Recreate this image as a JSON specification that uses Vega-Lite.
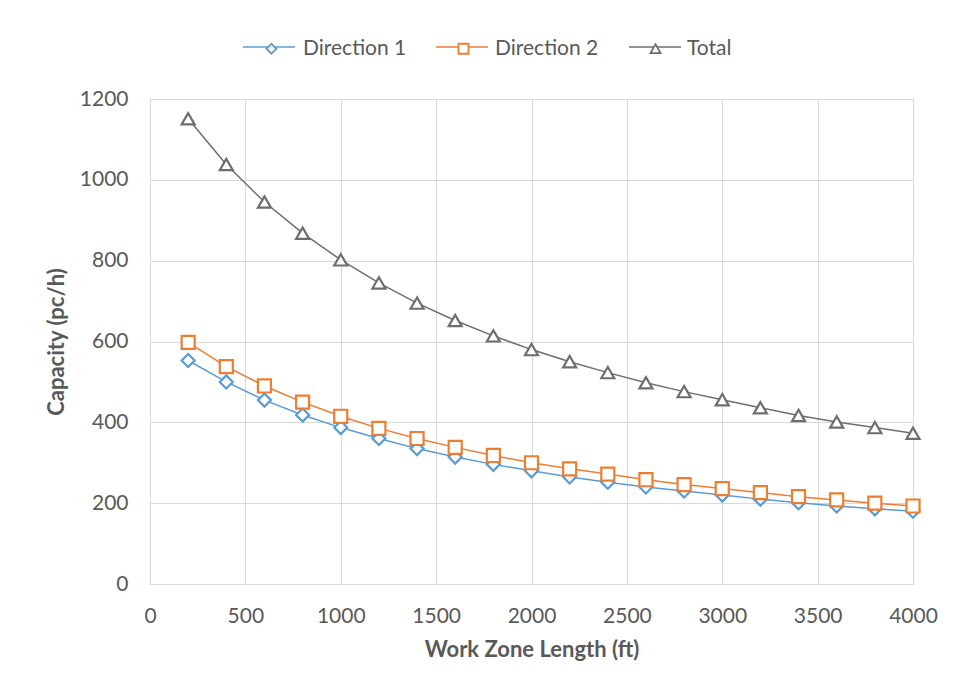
{
  "$schema": "https://vega.github.io/schema/vega-lite/v6.json",
  "width": 763,
  "height": 485,
  "autosize": {"type": "none"},
  "padding": {"left": 150, "top": 99, "right": 43, "bottom": 112},
  "background": "white",
  "config": {
    "font": "Lato",
    "view": {"stroke": null},
    "axis": {"labelColor": "#595959", "titleColor": "#595959", "gridColor": "#d9d9d9", "labelFont": "Lato", "titleFont": "Lato"},
    "legend": {"labelFont": "Lato"}
  },
  "data": {"values": [
    {"len": 200, "series": "Direction 1", "cap": 553}, {"len": 400, "series": "Direction 1", "cap": 500}, {"len": 600, "series": "Direction 1", "cap": 455}, {"len": 800, "series": "Direction 1", "cap": 418}, {"len": 1000, "series": "Direction 1", "cap": 387}, {"len": 1200, "series": "Direction 1", "cap": 360}, {"len": 1400, "series": "Direction 1", "cap": 335}, {"len": 1600, "series": "Direction 1", "cap": 314}, {"len": 1800, "series": "Direction 1", "cap": 296}, {"len": 2000, "series": "Direction 1", "cap": 280}, {"len": 2200, "series": "Direction 1", "cap": 265}, {"len": 2400, "series": "Direction 1", "cap": 252}, {"len": 2600, "series": "Direction 1", "cap": 240}, {"len": 2800, "series": "Direction 1", "cap": 230}, {"len": 3000, "series": "Direction 1", "cap": 220}, {"len": 3200, "series": "Direction 1", "cap": 210}, {"len": 3400, "series": "Direction 1", "cap": 201}, {"len": 3600, "series": "Direction 1", "cap": 193}, {"len": 3800, "series": "Direction 1", "cap": 186}, {"len": 4000, "series": "Direction 1", "cap": 180},
    {"len": 200, "series": "Direction 2", "cap": 598}, {"len": 400, "series": "Direction 2", "cap": 538}, {"len": 600, "series": "Direction 2", "cap": 490}, {"len": 800, "series": "Direction 2", "cap": 450}, {"len": 1000, "series": "Direction 2", "cap": 415}, {"len": 1200, "series": "Direction 2", "cap": 385}, {"len": 1400, "series": "Direction 2", "cap": 360}, {"len": 1600, "series": "Direction 2", "cap": 338}, {"len": 1800, "series": "Direction 2", "cap": 318}, {"len": 2000, "series": "Direction 2", "cap": 300}, {"len": 2200, "series": "Direction 2", "cap": 285}, {"len": 2400, "series": "Direction 2", "cap": 272}, {"len": 2600, "series": "Direction 2", "cap": 258}, {"len": 2800, "series": "Direction 2", "cap": 246}, {"len": 3000, "series": "Direction 2", "cap": 236}, {"len": 3200, "series": "Direction 2", "cap": 226}, {"len": 3400, "series": "Direction 2", "cap": 216}, {"len": 3600, "series": "Direction 2", "cap": 208}, {"len": 3800, "series": "Direction 2", "cap": 200}, {"len": 4000, "series": "Direction 2", "cap": 193},
    {"len": 200, "series": "Total", "cap": 1151}, {"len": 400, "series": "Total", "cap": 1038}, {"len": 600, "series": "Total", "cap": 945}, {"len": 800, "series": "Total", "cap": 868}, {"len": 1000, "series": "Total", "cap": 802}, {"len": 1200, "series": "Total", "cap": 745}, {"len": 1400, "series": "Total", "cap": 695}, {"len": 1600, "series": "Total", "cap": 652}, {"len": 1800, "series": "Total", "cap": 614}, {"len": 2000, "series": "Total", "cap": 580}, {"len": 2200, "series": "Total", "cap": 550}, {"len": 2400, "series": "Total", "cap": 523}, {"len": 2600, "series": "Total", "cap": 498}, {"len": 2800, "series": "Total", "cap": 476}, {"len": 3000, "series": "Total", "cap": 456}, {"len": 3200, "series": "Total", "cap": 436}, {"len": 3400, "series": "Total", "cap": 417}, {"len": 3600, "series": "Total", "cap": 401}, {"len": 3800, "series": "Total", "cap": 387}, {"len": 4000, "series": "Total", "cap": 373}
  ]},
  "encoding": {
    "x": {"field": "len", "type": "quantitative", "title": "Work Zone Length (ft)",
      "scale": {"domain": [0, 4000], "nice": false},
      "axis": {"values": [0, 500, 1000, 1500, 2000, 2500, 3000, 3500, 4000], "format": "d", "ticks": false, "domainColor": "#d9d9d9", "labelFontSize": 21, "labelPadding": 21, "titleFontSize": 22, "titleFontWeight": "bold", "titlePadding": 13, "labelFlush": false}},
    "y": {"field": "cap", "type": "quantitative", "title": "Capacity (pc/h)",
      "scale": {"domain": [0, 1200], "nice": false},
      "axis": {"values": [0, 200, 400, 600, 800, 1000, 1200], "format": "d", "ticks": false, "domain": false, "labelFontSize": 21, "labelPadding": 22, "titleFontSize": 22, "titleFontWeight": "bold", "titlePadding": 11}}
  },
  "layer": [
    {
      "mark": {"type": "line", "strokeWidth": 1.5},
      "encoding": {
        "color": {"field": "series", "type": "nominal", "title": null,
          "scale": {"range": ["#5B9BD5", "#ED7D31", "#6E6E6E"]},
          "legend": {"orient": "none", "legendX": 92, "legendY": -79, "direction": "horizontal", "labelFontSize": 21, "labelExpr": "''", "symbolType": "stroke", "symbolSize": 2704, "symbolStrokeWidth": 1.5, "gridAlign": "all", "columnPadding": 135, "labelOffset": 0}}
      }
    },
    {
      "mark": {"type": "point", "filled": true, "fill": "white", "strokeWidth": 2.2, "size": 170, "opacity": 1},
      "encoding": {
        "stroke": {"field": "series", "type": "nominal", "title": null,
          "scale": {"domain": ["Direction 1", "Direction 2", "Total"], "range": ["#5B9BD5", "#ED7D31", "#6E6E6E"]},
          "legend": {"orient": "none", "legendX": 111, "legendY": -61, "direction": "horizontal", "labelFontSize": 21, "labelColor": "#595959", "symbolSize": 100, "symbolStrokeWidth": 1.8, "symbolFillColor": "white", "gridAlign": "all", "columnPadding": 46, "labelOffset": 21}},
        "shape": {"field": "series", "type": "nominal", "title": null,
          "scale": {"domain": ["Direction 1", "Direction 2", "Total"], "range": ["diamond", "square", "triangle-up"]}}
      }
    }
  ]
}
